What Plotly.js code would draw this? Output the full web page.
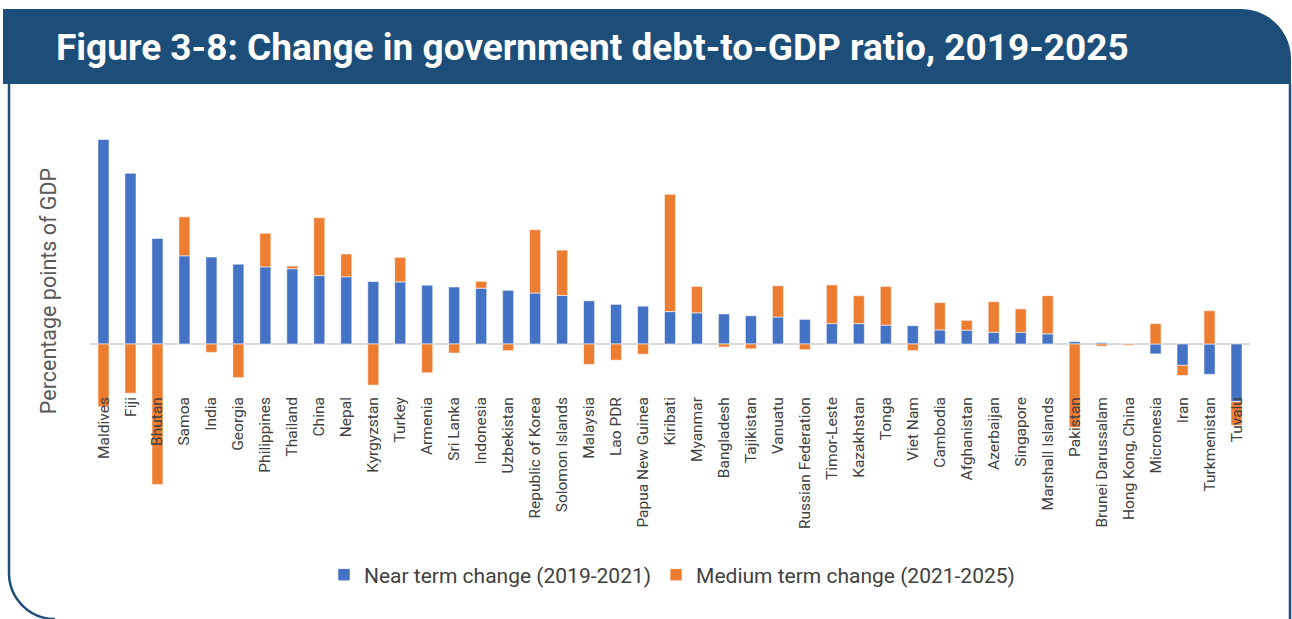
<!DOCTYPE html>
<html>
<head>
<meta charset="utf-8">
<script src="https://cdn.plot.ly/plotly-3.0.1.min.js"></script>
<style>
  html, body { margin: 0; padding: 0; background: #ffffff; }
  #chart { width: 1292px; height: 619px; }
</style>
</head>
<body>
<div id="chart"></div>
<script>
// ---- Data (percentage points of GDP) ----
const categories = [
  "Maldives", "Fiji", "Bhutan", "Samoa", "India", "Georgia", "Philippines", "Thailand",
  "China", "Nepal", "Kyrgyzstan", "Turkey", "Armenia", "Sri Lanka", "Indonesia",
  "Uzbekistan", "Republic of Korea", "Solomon Islands", "Malaysia", "Lao PDR",
  "Papua New Guinea", "Kiribati", "Myanmar", "Bangladesh", "Tajikistan", "Vanuatu",
  "Russian Federation", "Timor-Leste", "Kazakhstan", "Tonga", "Viet Nam", "Cambodia",
  "Afghanistan", "Azerbaijan", "Singapore", "Marshall Islands", "Pakistan",
  "Brunei Darussalam", "Hong Kong, China", "Micronesia", "Iran", "Turkmenistan", "Tuvalu"
];
const nearTerm = [
  68.2, 56.9, 35.2, 29.4, 29.0, 26.6, 25.7, 25.1,
  22.8, 22.4, 20.8, 20.7, 19.6, 19.0, 18.6,
  17.9, 17.0, 16.2, 14.4, 13.2,
  12.6, 10.8, 10.4, 10.0, 9.4, 9.0,
  8.2, 6.8, 6.8, 6.3, 6.1, 4.7,
  4.6, 3.9, 3.9, 3.4, 0.8,
  0.5, 0.2, -3.3, -7.1, -10.1, -19.2
];
const mediumTerm = [
  -20.9, -16.4, -46.8, 13.0, -2.8, -11.2, 11.2, 0.9,
  19.3, 7.6, -13.7, 8.2, -9.6, -3.0, 2.3,
  -2.2, 21.1, 15.1, -6.8, -5.4,
  -3.4, 39.1, 8.8, -1.0, -1.6, 10.4,
  -1.9, 12.9, 9.3, 12.9, -2.2, 9.1,
  3.3, 10.2, 7.8, 12.7, -27.8,
  -0.7, -0.4, 6.8, -3.4, 11.1, -7.9
];
const seriesNames = ["Near term change (2019-2021)", "Medium term change (2021-2025)"];
const titleText = "Figure 3-8: Change in government debt-to-GDP ratio, 2019-2025";
const yTitle = "Percentage points of GDP";

// ---- Layout geometry (pixels) ----
const W = 1292, H = 619;
const M = { l: 90, r: 42, t: 96, b: 133 };
const PW = W - M.l - M.r, PH = H - M.t - M.b;
const px = x => (x - M.l) / PW;
const py = y => 1 - (y - M.t) / PH;

const navy = "#1c4e79";
const k = 0.5523;
function headerPath() {
  const x0 = px(3), x1 = px(1291), y0 = py(9), y1 = py(84);
  const rx = 50 / PW, ry = 50 / PH;
  return `M ${x0},${y1} L ${x0},${y0} L ${x1 - rx},${y0} ` +
         `C ${x1 - rx + rx * k},${y0} ${x1},${y0 - ry + ry * k} ${x1},${y0 - ry} ` +
         `L ${x1},${y1} Z`;
}
function borderPath() {
  const xl = px(9), xr = px(1290), yt = py(84), yb = py(619);
  const rx = 46 / PW, ry = 46 / PH;
  return `M ${xl},${yt} L ${xl},${yb + ry} ` +
         `C ${xl},${yb + ry - ry * k} ${xl + rx - rx * k},${yb} ${xl + rx},${yb} ` +
         `M ${xr},${yt} L ${xr},${py(625)}`;
}

const traces = [
  {
    type: "bar", name: seriesNames[0], x: categories, y: nearTerm,
    marker: { color: "#4472C4", line: { color: "rgba(255,255,255,0.55)", width: 1 } },
    hoverinfo: "x+y"
  },
  {
    type: "bar", name: seriesNames[1], x: categories, y: mediumTerm,
    marker: { color: "#ED7D31", line: { color: "rgba(255,255,255,0.55)", width: 1 } },
    hoverinfo: "x+y"
  }
];

const layout = {
  width: W, height: H,
  margin: M,
  paper_bgcolor: "#ffffff",
  plot_bgcolor: "rgba(0,0,0,0)",
  barmode: "relative",
  bargap: 0.59,
  font: { family: "Roboto, 'Open Sans', sans-serif", color: "#404040" },
  title: {
    text: titleText,
    xref: "container", yref: "container",
    x: 56 / W, xanchor: "left",
    y: 1 - 47 / H, yanchor: "middle",
    font: { family: "Roboto, 'Liberation Sans', sans-serif", size: 37, color: "#ffffff", weight: "bold" }
  },
  xaxis: {
    type: "category",
    range: [-0.5, categories.length - 0.5],
    showgrid: false, showline: false, zeroline: false,
    ticks: "", tickangle: -90,
    ticklabelstandoff: -93,
    tickfont: { size: 15.5, color: "#404040", family: "Roboto, sans-serif" },
    fixedrange: true
  },
  yaxis: {
    range: [-(M.t + PH - 344) / 3, (344 - M.t) / 3],
    showgrid: false, showline: false, showticklabels: false, ticks: "",
    zeroline: true, zerolinecolor: "#d9d9d9", zerolinewidth: 1.5,
    title: { text: yTitle, standoff: 26, font: { size: 21.5, color: "#595959", family: "Roboto, sans-serif" } },
    fixedrange: true
  },
  showlegend: true,
  legend: {
    orientation: "h",
    x: px(672), xanchor: "center",
    y: py(575), yanchor: "middle",
    font: { size: 21, color: "#404040", family: "Roboto, sans-serif" },
    itemwidth: 30,
    traceorder: "normal"
  },
  shapes: [
    { type: "path", xref: "paper", yref: "paper", path: headerPath(),
      fillcolor: navy, line: { width: 0 }, layer: "below" },
    { type: "path", xref: "paper", yref: "paper", path: borderPath(),
      fillcolor: "rgba(0,0,0,0)", line: { color: navy, width: 2.5 }, layer: "below" }
  ]
};

Plotly.newPlot("chart", traces, layout, { displayModeBar: false, staticPlot: true });
</script>
</body>
</html>
